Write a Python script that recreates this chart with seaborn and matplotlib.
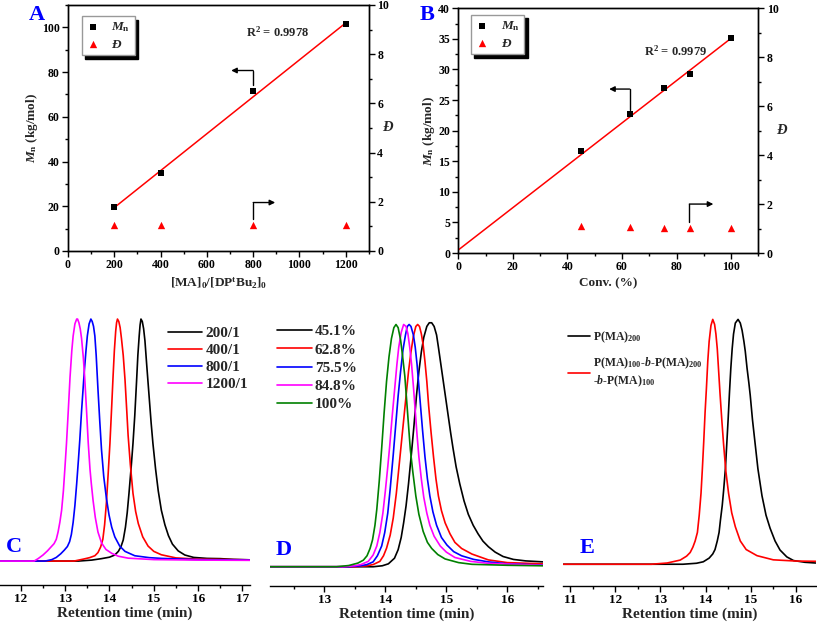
"""Mn / dispersity plots (A, B) and GPC traces (C, D, E)."""

import matplotlib
matplotlib.use("Agg")
import matplotlib.pyplot as plt
import seaborn as sns
from matplotlib.ticker import MultipleLocator

sns.set_style("ticks")
plt.rcParams.update({
    "font.family": ["Liberation Serif", "DejaVu Serif"],
    "font.weight": "bold",
    "axes.labelweight": "bold",
    "mathtext.fontset": "custom",
    "mathtext.rm": "Liberation Serif:bold",
    "mathtext.it": "Liberation Serif:italic:bold",
    "mathtext.bf": "Liberation Serif:bold",
    "mathtext.default": "rm",
    "axes.linewidth": 1.0,
    "xtick.direction": "out",
    "ytick.direction": "out",
    "xtick.color": "k",
    "ytick.color": "k",
    "axes.edgecolor": "k",
})

# ---- panel A data ----
ratio_a = [200, 400, 800, 1200]
mn_a = [19.5, 35.0, 71.5, 101.5]
pdi_a = [1.05, 1.05, 1.05, 1.06]
fit_a_x = [200, 1200]
fit_a_y = [19.4, 102.0]

# ---- panel B data ----
conv_b = [45.1, 62.8, 75.5, 84.8, 100.0]
mn_b = [16.7, 22.7, 26.9, 29.2, 35.1]
pdi_b = [1.10, 1.07, 1.04, 1.04, 1.04]
fit_b_x = [0, 100]
fit_b_y = [0.5, 35.1]

# ---- panel C: GPC traces, ratio series (normalised RI signal) ----
c_labels = ["200/1", "400/1", "800/1", "1200/1"]
c_200_t = [11.53, 13.3, 13.6, 13.82, 14.0, 14.12, 14.2, 14.26, 14.31, 14.36, 14.40, 14.44,
           14.49, 14.53, 14.57, 14.61, 14.64, 14.67, 14.69, 14.71, 14.74, 14.77, 14.80,
           14.84, 14.89, 14.94, 14.98, 15.04, 15.10, 15.17, 15.25, 15.33, 15.42, 15.55,
           15.7, 15.9, 16.2, 16.5, 16.8, 17.17]
c_200_v = [0.0, 0.0, 0.004, 0.010, 0.016, 0.025, 0.04, 0.06, 0.087, 0.14, 0.20, 0.28,
           0.39, 0.486, 0.60, 0.74, 0.85, 0.93, 0.975, 1.0, 0.99, 0.96, 0.91,
           0.81, 0.69, 0.57, 0.486, 0.38, 0.29, 0.21, 0.15, 0.105, 0.07, 0.042,
           0.025, 0.015, 0.011, 0.010, 0.007, 0.005]
c_400_t = [11.53, 13.2, 13.41, 13.55, 13.67, 13.74, 13.80, 13.85, 13.89, 13.93, 13.97,
           14.01, 14.05, 14.08, 14.11, 14.14, 14.16, 14.18, 14.21, 14.24, 14.27, 14.31,
           14.35, 14.39, 14.42, 14.47, 14.53, 14.59, 14.65, 14.75, 14.87, 15.0, 15.17,
           15.5, 16.0, 17.17]
c_400_v = [0.0, 0.0, 0.008, 0.014, 0.022, 0.035, 0.058, 0.09, 0.15, 0.24, 0.36,
           0.486, 0.64, 0.76, 0.87, 0.95, 0.985, 1.0, 0.99, 0.965, 0.92, 0.85,
           0.75, 0.62, 0.52, 0.40, 0.28, 0.205, 0.155, 0.10, 0.062, 0.04, 0.026,
           0.013, 0.008, 0.005]
c_800_t = [11.53, 12.55, 12.7, 12.8, 12.9, 12.98, 13.05, 13.10, 13.14, 13.18, 13.22,
           13.26, 13.30, 13.33, 13.37, 13.40, 13.43, 13.47, 13.50, 13.54, 13.58, 13.61,
           13.64, 13.67, 13.70, 13.74, 13.78, 13.82, 13.87, 13.93, 13.99, 14.05, 14.12,
           14.23, 14.35, 14.57, 14.9, 15.17, 16.0, 17.17]
c_800_v = [0.0, 0.0, 0.006, 0.015, 0.03, 0.045, 0.06, 0.08, 0.11, 0.16, 0.23,
           0.32, 0.42, 0.50, 0.62, 0.70, 0.78, 0.87, 0.93, 0.98, 1.0, 0.99,
           0.97, 0.93, 0.85, 0.71, 0.58, 0.46, 0.35, 0.26, 0.19, 0.14, 0.10,
           0.062, 0.04, 0.022, 0.014, 0.011, 0.006, 0.004]
c_1200_t = [11.53, 12.3, 12.39, 12.5, 12.6, 12.68, 12.75, 12.80, 12.84, 12.88, 12.92,
            12.96, 13.00, 13.03, 13.07, 13.11, 13.15, 13.18, 13.22, 13.26, 13.28, 13.31,
            13.34, 13.37, 13.41, 13.44, 13.48, 13.52, 13.56, 13.59, 13.63, 13.68, 13.74,
            13.82, 13.92, 14.05, 14.2, 14.42, 15.0, 16.0, 17.17]
c_1200_v = [0.0, 0.0, 0.01, 0.025, 0.042, 0.058, 0.072, 0.09, 0.12, 0.16, 0.21,
            0.29, 0.40, 0.486, 0.62, 0.76, 0.87, 0.93, 0.98, 1.0, 1.0, 0.985,
            0.96, 0.92, 0.84, 0.76, 0.63, 0.49, 0.38, 0.32, 0.25, 0.18, 0.12,
            0.075, 0.048, 0.032, 0.02, 0.012, 0.006, 0.004, 0.003]

# ---- panel D: GPC traces, conversion series ----
d_labels = ["45.1%", "62.8%", "75.5%", "84.8%", "100%"]
d_451_t = [12.11, 13.8, 13.95, 14.05, 14.15, 14.21, 14.26, 14.30, 14.34, 14.38, 14.43,
           14.47, 14.51, 14.55, 14.59, 14.63, 14.68, 14.72, 14.76, 14.80, 14.84, 14.87,
           14.91, 14.95, 14.99, 15.03, 15.07, 15.11, 15.16, 15.22, 15.29, 15.36, 15.44,
           15.52, 15.6, 15.69, 15.8, 15.93, 16.1, 16.3, 16.58]
d_451_v = [0.0, 0.0, 0.004, 0.012, 0.035, 0.07, 0.12, 0.18, 0.25, 0.34, 0.47,
           0.58, 0.70, 0.80, 0.88, 0.94, 0.985, 1.0, 1.0, 0.985, 0.95, 0.90,
           0.83, 0.76, 0.69, 0.62, 0.55, 0.485, 0.41, 0.34, 0.27, 0.215, 0.17,
           0.135, 0.105, 0.082, 0.06, 0.042, 0.03, 0.024, 0.02]
d_628_t = [12.11, 13.5, 13.7, 13.8, 13.91, 13.97, 14.02, 14.08, 14.13, 14.18, 14.22,
           14.26, 14.30, 14.34, 14.38, 14.42, 14.46, 14.50, 14.53, 14.56, 14.59, 14.62,
           14.65, 14.68, 14.71, 14.75, 14.79, 14.83, 14.87, 14.92, 14.98, 15.06, 15.14,
           15.25, 15.42, 15.69, 16.0, 16.58]
d_628_v = [0.0, 0.0, 0.004, 0.009, 0.022, 0.045, 0.076, 0.13, 0.20, 0.30, 0.40,
           0.50, 0.60, 0.70, 0.80, 0.88, 0.945, 0.985, 0.993, 0.985, 0.955, 0.91,
           0.84, 0.76, 0.66, 0.55, 0.45, 0.36, 0.29, 0.23, 0.18, 0.135, 0.10,
           0.075, 0.052, 0.028, 0.017, 0.012]
d_755_t = [12.11, 13.4, 13.6, 13.70, 13.80, 13.87, 13.94, 13.99, 14.04, 14.08, 14.13,
           14.17, 14.21, 14.25, 14.29, 14.33, 14.36, 14.39, 14.42, 14.46, 14.49, 14.52,
           14.55, 14.58, 14.61, 14.65, 14.69, 14.73, 14.78, 14.84, 14.92, 15.01, 15.12,
           15.25, 15.45, 15.69, 16.0, 16.58]
d_755_v = [0.0, 0.0, 0.004, 0.009, 0.02, 0.045, 0.085, 0.14, 0.22, 0.32, 0.46,
           0.58, 0.70, 0.80, 0.89, 0.95, 0.985, 0.993, 0.985, 0.95, 0.90, 0.83,
           0.74, 0.65, 0.56, 0.45, 0.36, 0.29, 0.225, 0.17, 0.12, 0.089, 0.062,
           0.045, 0.03, 0.02, 0.012, 0.007]
d_848_t = [12.11, 13.3, 13.5, 13.6, 13.72, 13.80, 13.86, 13.91, 13.96, 14.00, 14.04,
           14.07, 14.11, 14.15, 14.19, 14.22, 14.26, 14.30, 14.34, 14.37, 14.40, 14.43,
           14.46, 14.49, 14.52, 14.55, 14.59, 14.63, 14.68, 14.73, 14.80, 14.90, 15.0,
           15.14, 15.4, 15.69, 16.58]
d_848_v = [0.0, 0.0, 0.004, 0.009, 0.022, 0.048, 0.085, 0.14, 0.22, 0.31, 0.41,
           0.49, 0.61, 0.72, 0.83, 0.90, 0.96, 0.993, 0.985, 0.955, 0.90, 0.83,
           0.74, 0.64, 0.54, 0.45, 0.36, 0.285, 0.22, 0.17, 0.125, 0.085, 0.06,
           0.038, 0.022, 0.014, 0.006]
d_100_t = [12.11, 13.2, 13.4, 13.55, 13.64, 13.70, 13.75, 13.79, 13.83, 13.86, 13.90,
           13.94, 13.98, 14.02, 14.06, 14.10, 14.14, 14.175, 14.21, 14.25, 14.28, 14.32,
           14.35, 14.38, 14.41, 14.45, 14.50, 14.55, 14.62, 14.69, 14.76, 14.86, 14.98,
           15.2, 15.42, 16.0, 16.58]
d_100_v = [0.0, 0.0, 0.005, 0.015, 0.027, 0.045, 0.075, 0.11, 0.17, 0.235, 0.35,
           0.485, 0.63, 0.76, 0.86, 0.935, 0.98, 0.993, 0.98, 0.93, 0.87, 0.78,
           0.68, 0.58, 0.48, 0.39, 0.29, 0.215, 0.145, 0.10, 0.075, 0.05, 0.032,
           0.017, 0.01, 0.006, 0.004]

# ---- panel E: homopolymer vs triblock ----
e_labels = ["P(MA)$_{200}$",
            "P(MA)$_{100}$-$\\mathit{b}$-P(MA)$_{200}$\n-$\\mathit{b}$-P(MA)$_{100}$"]
e_homo_t = [10.85, 13.5, 13.8, 13.95, 14.08, 14.16, 14.21, 14.26, 14.30, 14.33, 14.37,
            14.40, 14.44, 14.47, 14.50, 14.53, 14.56, 14.59, 14.62, 14.66, 14.72, 14.77,
            14.81, 14.85, 14.88, 14.92, 14.96, 14.99, 15.04, 15.10, 15.16, 15.25, 15.34,
            15.43, 15.54, 15.65, 15.8, 15.95, 16.2, 16.44]
e_homo_v = [0.0, 0.0, 0.004, 0.01, 0.025, 0.042, 0.06, 0.095, 0.13, 0.18, 0.24,
            0.30, 0.39, 0.49, 0.59, 0.70, 0.80, 0.88, 0.94, 0.985, 1.0, 0.985,
            0.955, 0.91, 0.87, 0.80, 0.74, 0.69, 0.59, 0.49, 0.39, 0.28, 0.20,
            0.147, 0.095, 0.058, 0.03, 0.015, 0.008, 0.005]
e_block_t = [10.85, 12.8, 13.15, 13.44, 13.58, 13.66, 13.72, 13.77, 13.82, 13.86, 13.90,
             13.93, 13.96, 13.99, 14.02, 14.05, 14.08, 14.12, 14.16, 14.20, 14.23, 14.26,
             14.29, 14.32, 14.36, 14.40, 14.45, 14.51, 14.58, 14.66, 14.77, 14.9, 15.14,
             15.5, 16.0, 16.44]
e_block_v = [0.0, 0.0, 0.005, 0.017, 0.033, 0.048, 0.07, 0.095, 0.13, 0.2, 0.29,
             0.39, 0.50, 0.62, 0.72, 0.83, 0.91, 0.975, 1.0, 0.98, 0.94, 0.88,
             0.79, 0.70, 0.59, 0.49, 0.38, 0.29, 0.21, 0.153, 0.095, 0.06, 0.035,
             0.018, 0.013, 0.012]

BLUE_LETTER = "#0000FF"
TICK_FS = 8.5
LABEL_FS = 9.5

fig = plt.figure(figsize=(8.17, 6.30), dpi=100)


def mn_panel(rect, x, mn, pdi, fit_x, fit_y, xlim, ylim, xmaj, xmin_, ymaj, ymin_,
             xlabel, r2_text, r2_pos, larrow, rarrow, leg_anchor, dlabel_x):
    ax = fig.add_axes(rect)
    ax2 = ax.twinx()
    sns.lineplot(x=fit_x, y=fit_y, color="#FF0000", lw=1.1, ax=ax)
    sns.scatterplot(x=x, y=mn, marker="s", s=20, color="k", linewidth=0, ax=ax, zorder=3)
    sns.scatterplot(x=x, y=pdi, marker="^", s=28, color="#FF0000", linewidth=0,
                    ax=ax2, zorder=3)
    ax.set_xlim(*xlim)
    ax.set_ylim(*ylim)
    ax2.set_ylim(0, 10)
    ax.xaxis.set_major_locator(MultipleLocator(xmaj))
    ax.xaxis.set_minor_locator(MultipleLocator(xmin_))
    ax.yaxis.set_major_locator(MultipleLocator(ymaj))
    ax.yaxis.set_minor_locator(MultipleLocator(ymin_))
    ax2.yaxis.set_major_locator(MultipleLocator(2))
    ax2.yaxis.set_minor_locator(MultipleLocator(1))
    for a in (ax, ax2):
        a.tick_params(which="major", length=4, width=1.0, labelsize=TICK_FS, pad=2)
        a.tick_params(which="minor", length=2.5, width=1.0)
        for sp in a.spines.values():
            sp.set_visible(True)
            sp.set_linewidth(1.0)
    ax.tick_params(top=False, which="both")
    ax.set_xlabel(xlabel, fontsize=LABEL_FS, labelpad=3)
    ax.set_ylabel(r"$\mathit{M}_\mathrm{n}$ (kg/mol)", fontsize=LABEL_FS, labelpad=1)
    ax2.set_ylabel("")
    ax2.text(dlabel_x, 0.5, "Đ", transform=ax2.transAxes, ha="center", va="center",
             fontsize=LABEL_FS + 1, fontstyle="italic", fontweight="bold")
    ax.text(r2_pos[0], r2_pos[1], r2_text, fontsize=9, va="center", ha="left")

    # bent arrows pointing at the axis each series belongs to
    (lx, ly0, ly1, lx1) = larrow
    ax.plot([lx, lx], [ly0, ly1], color="k", lw=1.0)
    ax.annotate("", xy=(lx1, ly1), xytext=(lx, ly1),
                arrowprops=dict(arrowstyle="-|>", color="k", lw=1.0, mutation_scale=8,
                                shrinkA=0, shrinkB=0))
    (rx, ry0, ry1, rx1) = rarrow
    ax2.plot([rx, rx], [ry0, ry1], color="k", lw=1.0)
    ax2.annotate("", xy=(rx1, ry1), xytext=(rx, ry1),
                 arrowprops=dict(arrowstyle="-|>", color="k", lw=1.0, mutation_scale=8,
                                 shrinkA=0, shrinkB=0))

    h1 = ax.collections[-1]
    h2 = ax2.collections[-1]
    for a in (ax, ax2):
        if a.get_legend() is not None:
            a.get_legend().remove()
    leg = ax.legend([h1, h2], [r"$\mathit{M}_\mathrm{n}$", "Đ"], loc="upper left",
                    bbox_to_anchor=leg_anchor, borderaxespad=0, fontsize=9.5,
                    fancybox=False, handlelength=1.0, handletextpad=0.9,
                    borderpad=0.35, labelspacing=0.3,
                    shadow={"ox": 2.5, "oy": -2.5, "color": "k", "alpha": 1})
    leg.get_frame().set_edgecolor("#999999")
    leg.get_frame().set_linewidth(1.0)
    leg.get_texts()[1].set_fontstyle("italic")
    leg.set_zorder(10)
    ax.set_zorder(ax2.get_zorder() + 1)
    ax.patch.set_visible(False)
    return ax, ax2


mn_panel([0.0832, 0.6016, 0.3684, 0.3905], ratio_a, mn_a, pdi_a, fit_a_x, fit_a_y,
         (0, 1300), (0, 110), 200, 100, 20, 10,
         r"[MA]$_0$/[DP$^t$Bu$_2$]$_0$", r"R$^2$ = 0.9978", (770, 98),
         (800, 74.0, 80.7, 705), (800, 1.3, 1.97, 895), (0.045, 0.955), 1.06)

mn_panel([0.561, 0.5984, 0.3672, 0.3884], conv_b, mn_b, pdi_b, fit_b_x, fit_b_y,
         (0, 110), (0, 40), 20, 10, 5, 2.5,
         "Conv. (%)", r"R$^2$ = 0.9979", (68, 32.9),
         (62.8, 23.4, 26.8, 55.3), (84.7, 1.28, 2.0, 93.5), (0.042, 0.973), 1.078)


def gpc_panel(rect, curves, colors, labels, xlim, ylim, leg_anchor, leg_kw):
    ax = fig.add_axes(rect)
    for (t, v), col, lab in zip(curves, colors, labels):
        sns.lineplot(x=t, y=v, color=col, lw=1.2, label=lab, ax=ax)
    ax.set_xlim(*xlim)
    ax.set_ylim(*ylim)
    ax.xaxis.set_major_locator(MultipleLocator(1))
    ax.xaxis.set_minor_locator(MultipleLocator(0.5))
    ax.set_yticks([])
    for side in ("left", "right", "top"):
        ax.spines[side].set_visible(False)
    ax.spines["bottom"].set_linewidth(1.0)
    ax.tick_params(which="major", length=4, width=1.0, labelsize=9.5, pad=2)
    ax.tick_params(which="minor", length=2.5, width=1.0)
    ax.set_xlabel("Retention time (min)", fontsize=11, labelpad=1)
    ax.set_ylabel("")
    ax.patch.set_visible(False)
    ax.legend(loc="upper left", bbox_to_anchor=leg_anchor, borderaxespad=0,
              frameon=False, borderpad=0, **leg_kw)
    return ax


gpc_panel([0.0, 0.0714, 0.306, 0.4333],
          [(c_200_t, c_200_v), (c_400_t, c_400_v), (c_800_t, c_800_v), (c_1200_t, c_1200_v)],
          ["#000000", "#FF0000", "#0000FF", "#FF00FF"], c_labels,
          (11.53, 17.17), (-0.099, 1.029), (0.672, 0.947),
          dict(fontsize=11, handlelength=2.2, handletextpad=0.27, labelspacing=0.22))

gpc_panel([0.3305, 0.0698, 0.3338, 0.4349],
          [(d_451_t, d_451_v), (d_628_t, d_628_v), (d_755_t, d_755_v),
           (d_848_t, d_848_v), (d_100_t, d_100_v)],
          ["#000000", "#FF0000", "#0000FF", "#FF00FF", "#008000"], d_labels,
          (12.11, 16.58), (-0.079, 1.044), (0.0246, 0.954),
          dict(fontsize=11, handlelength=2.3, handletextpad=0.2, labelspacing=0.3))

gpc_panel([0.6895, 0.0698, 0.3089, 0.4349],
          [(e_homo_t, e_homo_v), (e_block_t, e_block_v)],
          ["#000000", "#FF0000"], e_labels,
          (10.85, 16.44), (-0.089, 1.03), (0.0186, 0.935),
          dict(fontsize=8.5, handlelength=1.9, handletextpad=0.25, labelspacing=0.9))

# panel letters
for letter, px, py in [("A", 36.5, 15), ("B", 427.5, 15), ("C", 14, 547),
                       ("D", 283.5, 550), ("E", 587.5, 548)]:
    fig.text(px / 817, 1 - py / 630, letter, color=BLUE_LETTER, fontsize=16,
             fontweight="bold", ha="center", va="center")

fig.savefig("out.png", dpi=100)
plt.close(fig)
